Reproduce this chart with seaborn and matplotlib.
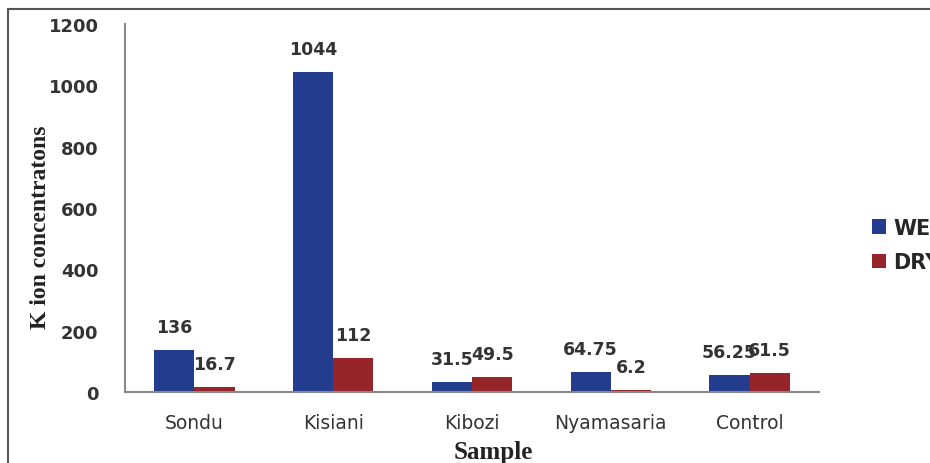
import pandas as pd
import seaborn as sns
import matplotlib.pyplot as plt
from matplotlib.lines import Line2D
from matplotlib.patches import Patch

# data
samples = ['Sondu', 'Kisiani', 'Kibozi', 'Nyamasaria', 'Control']
wet = [136, 1044, 31.5, 64.75, 56.25]
dry = [16.7, 112, 49.5, 6.2, 61.5]
wet_labels = ['136', '1044', '31.5', '64.75', '56.25']
dry_labels = ['16.7', '112', '49.5', '6.2', '61.5']
seasons = ['WET', 'DRY']
colors = ['#233c8e', '#952528']

df = pd.DataFrame({
    'Sample': samples * 2,
    'Season': ['WET'] * len(samples) + ['DRY'] * len(samples),
    'value': wet + dry,
})

sns.set_style('white')
plt.rcParams['font.family'] = ['DejaVu Sans']

fig = plt.figure(figsize=(9.3, 4.64), dpi=100)
ax = fig.add_axes([125 / 930, 1 - 393 / 464, 694 / 930, 368 / 464])

sns.barplot(data=df, x='Sample', y='value', hue='Season', hue_order=seasons,
            palette=colors, width=0.58, gap=0, saturation=1, legend=False,
            edgecolor='none', ax=ax)

for cont, labs in zip(ax.containers, [wet_labels, dry_labels]):
    ax.bar_label(cont, labels=labs, padding=10, fontsize=12.5, fontweight='bold',
                 color='#333333')

ax.set_xlim(-0.5, len(samples) - 0.5)
ax.set_ylim(0, 1200)
ax.set_yticks(range(0, 1201, 200))
ax.set_xlabel('')
ax.set_ylabel('')

sns.despine(ax=ax)
for s in ['left', 'bottom']:
    ax.spines[s].set_color('#888888')
    ax.spines[s].set_linewidth(1.5)

ax.tick_params(axis='y', which='major', length=7, width=1.5, color='#888888',
               labelsize=13, labelcolor='#333333', pad=12)
for t in ax.get_yticklabels():
    t.set_fontweight('bold')
ax.set_xticks(range(len(samples)))
ax.set_xticklabels(samples)
ax.tick_params(axis='x', which='major', length=0, labelsize=13.5,
               labelcolor='#333333', pad=15)
ax.set_xticks([i - 0.5 for i in range(len(samples) + 1)], minor=True)
ax.tick_params(axis='x', which='minor', length=7, width=1.5, color='#888888')

fig.text(40 / 930, 1 - 227 / 464, 'K ion concentratons', rotation=90,
         ha='center', va='center', fontsize=17, fontweight='bold',
         family='Liberation Serif', color='#222222')
fig.text(493 / 930, 1 - 453 / 464, 'Sample', ha='center', va='center',
         fontsize=18, fontweight='bold', family='Liberation Serif',
         color='#222222')

handles = [Patch(facecolor=c, edgecolor='none') for c in colors]
fig.legend(handles, seasons, loc='upper left',
           bbox_to_anchor=(853 / 930, 1 - 200 / 464), frameon=False,
           prop={'weight': 'bold', 'size': 15}, handlelength=0.67,
           handleheight=0.67, handletextpad=0.35, labelspacing=0.7)

# frame around the figure
fig.add_artist(Line2D([8 / 930, 1], [1 - 10 / 464, 1 - 10 / 464],
                      transform=fig.transFigure, color='#555555', lw=1.5))
fig.add_artist(Line2D([8 / 930, 8 / 930], [0, 1 - 10 / 464],
                      transform=fig.transFigure, color='#555555', lw=1.5))

plt.savefig('out.png', dpi=100)
